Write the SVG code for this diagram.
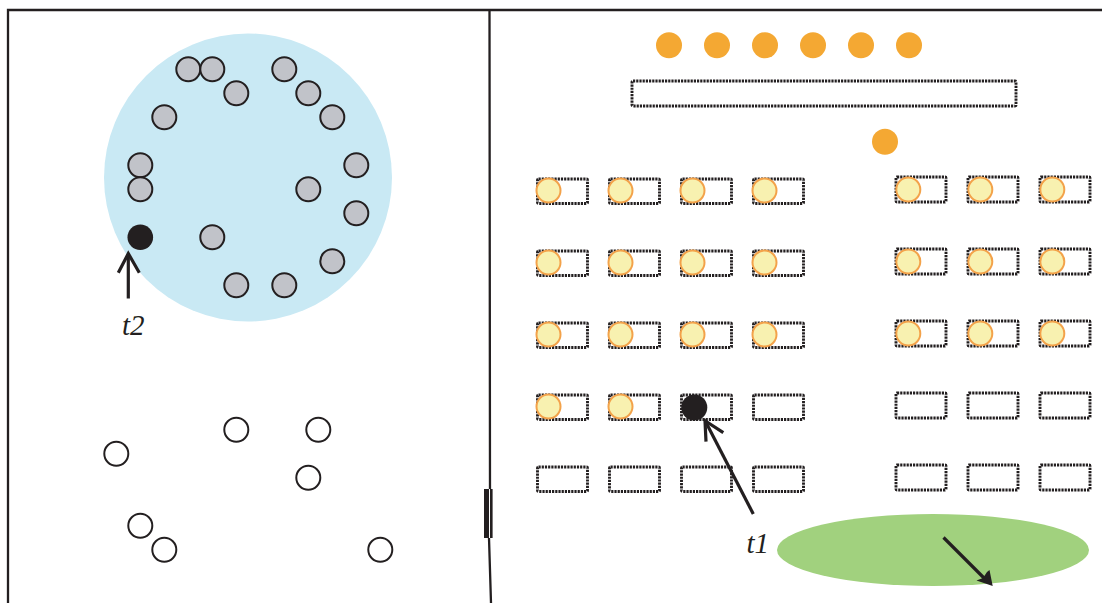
<svg xmlns="http://www.w3.org/2000/svg" width="1102" height="603" viewBox="0 0 1102 603">
<style>
.frame{fill:none;stroke:#231f20;stroke-width:2.3}
.gray{fill:#c1c3c9;stroke:#231f20;stroke-width:2}
.empty{fill:#fff;stroke:#231f20;stroke-width:2}
.blk{fill:#231f20}
.org{fill:#f4a833}
.seat{fill:none;stroke:#231f20;stroke-width:2.9;stroke-dasharray:2.2 1}
.yel{fill:#f8f1b0;stroke:#f3a24a;stroke-width:2}
.arr{fill:none;stroke:#231f20;stroke-width:3.2;stroke-linecap:butt;stroke-linejoin:miter}
.lbl{font-family:"Liberation Serif",serif;font-style:italic;font-size:29px;fill:#231f20}
</style>
<rect width="1102" height="603" fill="#fff"/>
<g id="frame">
<path class="frame" d="M8,603 L8,10 L1102,10"/>
<path class="frame" d="M489.5,10 L490,489 M489,538 L491,603"/>
<rect x="484" y="489" width="5" height="49" class="blk"/>
<rect x="490" y="489" width="2.6" height="49" class="blk"/>
</g>
<g id="zone-t2">
<circle cx="248" cy="177.5" r="144" fill="#c9e9f4"/>
<circle class="gray" cx="188.3" cy="69.3" r="12"/>
<circle class="gray" cx="212.3" cy="69.3" r="12"/>
<circle class="gray" cx="284.3" cy="69.3" r="12"/>
<circle class="gray" cx="236.3" cy="93.3" r="12"/>
<circle class="gray" cx="308.3" cy="93.3" r="12"/>
<circle class="gray" cx="164.3" cy="117.3" r="12"/>
<circle class="gray" cx="332.3" cy="117.3" r="12"/>
<circle class="gray" cx="140.3" cy="165.3" r="12"/>
<circle class="gray" cx="356.3" cy="165.3" r="12"/>
<circle class="gray" cx="140.3" cy="189.3" r="12"/>
<circle class="gray" cx="308.3" cy="189.3" r="12"/>
<circle class="gray" cx="356.3" cy="213.3" r="12"/>
<circle class="gray" cx="212.3" cy="237.3" r="12"/>
<circle class="gray" cx="332.3" cy="261.3" r="12"/>
<circle class="gray" cx="236.3" cy="285.3" r="12"/>
<circle class="gray" cx="284.3" cy="285.3" r="12"/>
<circle class="blk" cx="140.3" cy="237.3" r="12.8"/>
</g>
<g id="zone-empty">
<circle class="empty" cx="236.3" cy="429.7" r="12"/>
<circle class="empty" cx="318.3" cy="429.7" r="12"/>
<circle class="empty" cx="116.3" cy="453.7" r="12"/>
<circle class="empty" cx="308.3" cy="477.7" r="12"/>
<circle class="empty" cx="140.3" cy="525.7" r="12"/>
<circle class="empty" cx="164.3" cy="549.7" r="12"/>
<circle class="empty" cx="380.3" cy="549.7" r="12"/>
</g>
<g id="stage">
<circle class="org" cx="669" cy="45.3" r="13"/>
<circle class="org" cx="717" cy="45.3" r="13"/>
<circle class="org" cx="765" cy="45.3" r="13"/>
<circle class="org" cx="813" cy="45.3" r="13"/>
<circle class="org" cx="861" cy="45.3" r="13"/>
<circle class="org" cx="909" cy="45.3" r="13"/>
<rect class="seat" x="632" y="81" width="384" height="25" rx="1"/>
<circle class="org" cx="885" cy="141.7" r="13"/>
</g>
<g id="seats-left">
<rect class="seat" x="537.5" y="179" width="50" height="24.5" rx="1"/>
<rect class="seat" x="609.5" y="179" width="50" height="24.5" rx="1"/>
<rect class="seat" x="681.5" y="179" width="50" height="24.5" rx="1"/>
<rect class="seat" x="753.5" y="179" width="50" height="24.5" rx="1"/>
<rect class="seat" x="537.5" y="251" width="50" height="24.5" rx="1"/>
<rect class="seat" x="609.5" y="251" width="50" height="24.5" rx="1"/>
<rect class="seat" x="681.5" y="251" width="50" height="24.5" rx="1"/>
<rect class="seat" x="753.5" y="251" width="50" height="24.5" rx="1"/>
<rect class="seat" x="537.5" y="323" width="50" height="24.5" rx="1"/>
<rect class="seat" x="609.5" y="323" width="50" height="24.5" rx="1"/>
<rect class="seat" x="681.5" y="323" width="50" height="24.5" rx="1"/>
<rect class="seat" x="753.5" y="323" width="50" height="24.5" rx="1"/>
<rect class="seat" x="537.5" y="395" width="50" height="24.5" rx="1"/>
<rect class="seat" x="609.5" y="395" width="50" height="24.5" rx="1"/>
<rect class="seat" x="681.5" y="395" width="50" height="24.5" rx="1"/>
<rect class="seat" x="753.5" y="395" width="50" height="24.5" rx="1"/>
<rect class="seat" x="537.5" y="467" width="50" height="24.5" rx="1"/>
<rect class="seat" x="609.5" y="467" width="50" height="24.5" rx="1"/>
<rect class="seat" x="681.5" y="467" width="50" height="24.5" rx="1"/>
<rect class="seat" x="753.5" y="467" width="50" height="24.5" rx="1"/>
<circle class="yel" cx="548.5" cy="190.5" r="12"/>
<circle class="yel" cx="620.5" cy="190.5" r="12"/>
<circle class="yel" cx="692.5" cy="190.5" r="12"/>
<circle class="yel" cx="764.5" cy="190.5" r="12"/>
<circle class="yel" cx="548.5" cy="262.5" r="12"/>
<circle class="yel" cx="620.5" cy="262.5" r="12"/>
<circle class="yel" cx="692.5" cy="262.5" r="12"/>
<circle class="yel" cx="764.5" cy="262.5" r="12"/>
<circle class="yel" cx="548.5" cy="334.5" r="12"/>
<circle class="yel" cx="620.5" cy="334.5" r="12"/>
<circle class="yel" cx="692.5" cy="334.5" r="12"/>
<circle class="yel" cx="764.5" cy="334.5" r="12"/>
<circle class="yel" cx="548.5" cy="406.5" r="12"/>
<circle class="yel" cx="620.5" cy="406.5" r="12"/>
<circle class="blk" cx="694.3" cy="407.5" r="13"/>
</g>
<g id="seats-right">
<rect class="seat" x="896" y="177" width="50" height="25" rx="1"/>
<rect class="seat" x="968" y="177" width="50" height="25" rx="1"/>
<rect class="seat" x="1040" y="177" width="50" height="25" rx="1"/>
<rect class="seat" x="896" y="249" width="50" height="25" rx="1"/>
<rect class="seat" x="968" y="249" width="50" height="25" rx="1"/>
<rect class="seat" x="1040" y="249" width="50" height="25" rx="1"/>
<rect class="seat" x="896" y="321" width="50" height="25" rx="1"/>
<rect class="seat" x="968" y="321" width="50" height="25" rx="1"/>
<rect class="seat" x="1040" y="321" width="50" height="25" rx="1"/>
<rect class="seat" x="896" y="393" width="50" height="25" rx="1"/>
<rect class="seat" x="968" y="393" width="50" height="25" rx="1"/>
<rect class="seat" x="1040" y="393" width="50" height="25" rx="1"/>
<rect class="seat" x="896" y="465" width="50" height="25" rx="1"/>
<rect class="seat" x="968" y="465" width="50" height="25" rx="1"/>
<rect class="seat" x="1040" y="465" width="50" height="25" rx="1"/>
<circle class="yel" cx="908.3" cy="189.5" r="12"/>
<circle class="yel" cx="980.3" cy="189.5" r="12"/>
<circle class="yel" cx="1052.3" cy="189.5" r="12"/>
<circle class="yel" cx="908.3" cy="261.5" r="12"/>
<circle class="yel" cx="980.3" cy="261.5" r="12"/>
<circle class="yel" cx="1052.3" cy="261.5" r="12"/>
<circle class="yel" cx="908.3" cy="333.5" r="12"/>
<circle class="yel" cx="980.3" cy="333.5" r="12"/>
<circle class="yel" cx="1052.3" cy="333.5" r="12"/>
</g>
<g id="exit-zone">
<ellipse cx="933" cy="550" rx="156" ry="36" fill="#a1d17e"/>
</g>
<g id="connectors">
<path class="arr" d="M128.3,298.5 L128.3,254"/>
<path class="arr" d="M118.3,272.7 L128.3,253.5 L139.3,272.7"/>
<path class="arr" d="M753.3,514 L705.5,421.5"/>
<path class="arr" d="M706,441.7 L705,420.7 L723.3,432.7"/>
<path class="arr" d="M943.5,537.5 L985,579"/>
<polygon class="blk" points="992.7,586 976.5,580.5 983,578 987,572 989.5,570"/>
</g>
<g id="labels">
<text class="lbl" x="122" y="335">t2</text>
<text class="lbl" x="746.5" y="553">t1</text>
</g>
</svg>
